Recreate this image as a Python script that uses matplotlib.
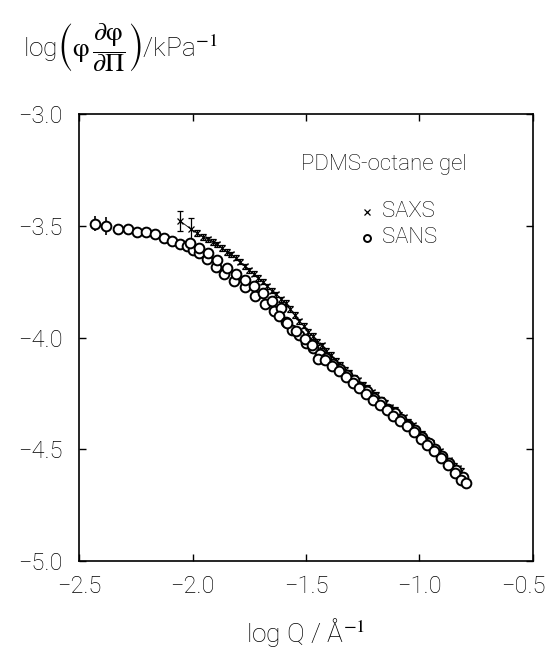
import numpy as np
import matplotlib
matplotlib.use("Agg")
import matplotlib.pyplot as plt
import matplotlib.transforms as mtransforms

plt.rcParams['font.family'] = ['Roboto', 'DejaVu Sans']
plt.rcParams['font.weight'] = 'light'
plt.rcParams['mathtext.fontset'] = 'stix'

# SANS points (open circles), log Q vs log(phi dphi/dPi)
sans_x = [-2.43, -2.38, -2.33, -2.285, -2.245, -2.205, -2.165, -2.125, -2.09, -2.055,
          -2.025, -2.00, -1.97, -1.935, -1.895, -1.86, -1.815, -1.77, -1.725, -1.68, -1.64,
          -2.01, -1.97, -1.93, -1.89, -1.85, -1.81, -1.77, -1.73, -1.69, -1.65, -1.61,
          -1.62, -1.59, -1.56, -1.53, -1.50, -1.47, -1.44, -1.41, -1.38, -1.35,
          -1.32, -1.29, -1.26, -1.23, -1.20, -1.17, -1.14, -1.11, -1.08, -1.05,
          -1.02, -0.99, -0.96, -0.93, -0.90, -0.87, -0.84, -0.81,
          -1.585, -1.545, -1.505, -1.475, -1.445, -1.415, -1.385, -1.355, -1.325, -1.295,
          -1.265, -1.235, -1.205, -1.175, -1.145, -1.115, -1.085, -1.055, -1.025, -0.995,
          -0.965, -0.935, -0.905, -0.875, -0.845, -0.815, -0.795]
sans_y = [-3.490, -3.500, -3.515, -3.515, -3.530, -3.530, -3.538, -3.555, -3.570, -3.582,
          -3.590, -3.610, -3.622, -3.650, -3.685, -3.718, -3.748, -3.775, -3.815, -3.850, -3.882,
          -3.578, -3.598, -3.622, -3.655, -3.690, -3.715, -3.742, -3.770, -3.800, -3.835, -3.870,
          -3.905, -3.930, -3.965, -3.990, -4.025, -4.045, -4.075, -4.090, -4.120, -4.140,
          -4.170, -4.190, -4.220, -4.240, -4.270, -4.290, -4.320, -4.340, -4.365, -4.390,
          -4.415, -4.445, -4.470, -4.500, -4.530, -4.560, -4.595, -4.625,
          -3.935, -3.970, -4.005, -4.035, -4.095, -4.100, -4.128, -4.152, -4.178, -4.202,
          -4.228, -4.255, -4.278, -4.300, -4.326, -4.350, -4.375, -4.398, -4.423, -4.452,
          -4.480, -4.508, -4.538, -4.572, -4.605, -4.638, -4.650]
sans_err = [0.035, 0.04] + [0.0] * (len(sans_x) - 2)

# SAXS points (crosses)
saxs_x = [-2.055, -2.007, -1.980, -1.955, -1.930, -1.910, -1.890, -1.870, -1.850, -1.830,
          -1.810, -1.790, -1.770, -1.750, -1.730, -1.710, -1.690, -1.670, -1.650, -1.630,
          -1.610, -1.590, -1.570, -1.550, -1.530, -1.510, -1.490, -1.470, -1.450, -1.430,
          -1.410, -1.390, -1.370, -1.350, -1.330, -1.310, -1.290, -1.270, -1.250, -1.230,
          -1.210, -1.190, -1.170, -1.150, -1.130, -1.110, -1.090, -1.070, -1.050, -1.030,
          -1.010, -0.990, -0.970, -0.950, -0.930, -0.910, -0.890, -0.870, -0.850, -0.830,
          -0.815]
saxs_y = [-3.478, -3.515, -3.532, -3.550, -3.561, -3.572, -3.583, -3.600, -3.617, -3.628,
          -3.643, -3.661, -3.682, -3.700, -3.714, -3.733, -3.750, -3.771, -3.790, -3.807,
          -3.829, -3.846, -3.872, -3.900, -3.928, -3.947, -3.975, -3.993, -4.020, -4.035,
          -4.061, -4.077, -4.104, -4.121, -4.144, -4.157, -4.180, -4.192, -4.213, -4.224,
          -4.246, -4.258, -4.279, -4.291, -4.313, -4.323, -4.345, -4.357, -4.378, -4.393,
          -4.418, -4.432, -4.457, -4.471, -4.496, -4.510, -4.535, -4.549, -4.573, -4.585,
          -4.598]
saxs_err = [0.045, 0.05] + [0.012] * (len(saxs_x) - 2)

fig = plt.figure(figsize=(5.51, 6.53), dpi=100)
ax = fig.add_axes([0.1434, 0.1409, 0.8239, 0.6845])

ax.plot(saxs_x, saxs_y, color='black', lw=0.6)
ax.errorbar(saxs_x, saxs_y, yerr=saxs_err, fmt='x', color='black', ms=5, mew=0.9,
            elinewidth=0.9, capsize=2, capthick=0.9)
ax.errorbar(sans_x, sans_y, yerr=sans_err, fmt='o', mfc='white', mec='black', ecolor='black',
            ms=7, mew=1.4, elinewidth=1.2, capsize=0)

ax.set_xlim(-2.5, -0.5)
ax.set_ylim(-5.0, -3.0)
ax.set_xticks([-2.5, -2.0, -1.5, -1.0, -0.5])
ax.set_yticks([-5.0, -4.5, -4.0, -3.5, -3.0])
ax.set_xticklabels(['\u22122.5', '\u22122.0', '\u22121.5', '\u22121.0', '\u22120.5'])
ax.set_yticklabels(['\u22125.0', '\u22124.5', '\u22124.0', '\u22123.5', '\u22123.0'])
ax.tick_params(direction='in', length=5, width=1, labelsize=17, top=True, right=True)
ax.tick_params(axis='x', pad=10)
ax.tick_params(axis='y', pad=12)
for s in ax.spines.values():
    s.set_linewidth(1.2)

# keep the last x label inside the figure
lbl = ax.get_xticklabels()[-1]
lbl.set_transform(lbl.get_transform() + mtransforms.ScaledTranslation(-0.1, 0, fig.dpi_scale_trans))

# legend drawn as text
ax.text(0.49, 0.888, 'PDMS-octane gel', transform=ax.transAxes, fontsize=16,
        va='center', ha='left')
ax.plot([0.634], [0.781], 'x', color='black', ms=5, mew=0.9, transform=ax.transAxes)
ax.text(0.667, 0.781, 'SAXS', transform=ax.transAxes, fontsize=16, va='center')
ax.plot([0.634], [0.723], 'o', mfc='white', mec='black', ms=5, mew=1.4, transform=ax.transAxes)
ax.text(0.667, 0.723, 'SANS', transform=ax.transAxes, fontsize=16, va='center')

fig.text(0.042, 0.928, r'log$\left(\mathrm{\varphi}\,\dfrac{\partial\mathrm{\varphi}}{\partial\Pi}\right)$/kPa$^{-1}$',
         fontsize=19, va='center', ha='left')
fig.text(0.555, 0.032, 'log Q / \u00c5$^{-1}$', fontsize=19, va='center', ha='center')

plt.savefig('out.png', dpi=100)
